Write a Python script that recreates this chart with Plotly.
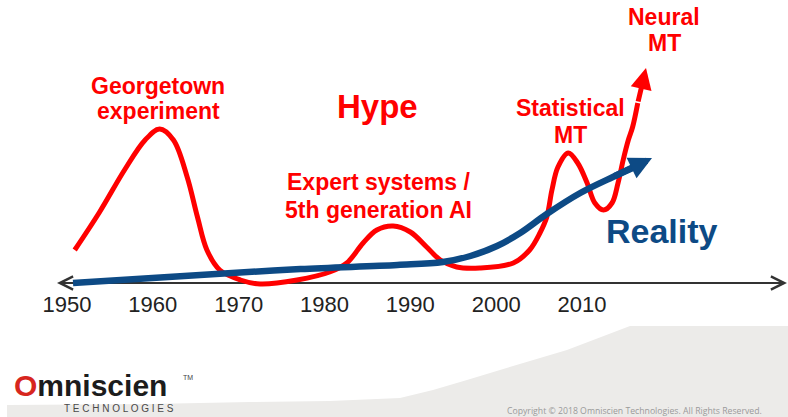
import plotly.graph_objects as go

W, H = 788, 417
X0_YEAR, X0_PX, PX_PER_YEAR = 1950, 67, 8.583
AXIS_PX = 283


def yr(px):
    return X0_YEAR + (px - X0_PX) / PX_PER_YEAR


def lv(py):
    return AXIS_PX - py


def px_x(px):
    return px / W


def px_y(py):
    return 1 - py / H


# ---------------- data ----------------
tick_years = [1950, 1960, 1970, 1980, 1990, 2000, 2010]
tick_labels = ["1950", "1960", "1970", "1980", "1990", "2000", "2010"]

hype_years = [1950.9, 1953.8, 1956.7, 1959.1, 1960.8, 1962.4, 1964.0, 1965.2, 1966.3,
              1967.8, 1970.2, 1972.5, 1976.8, 1980.6, 1982.6, 1984.5, 1986.1, 1988.0,
              1990.0, 1991.9, 1993.5, 1995.4, 1998.1, 2002.0, 2003.9, 2005.1, 2005.9,
              2006.5, 2007.2, 2008.4, 2009.5, 2010.6, 2011.5, 2012.5, 2013.5, 2014.2,
              2014.8, 2015.4, 2015.9, 2016.5, 2017.46]
hype_levels = [33, 71, 113, 143, 154, 143, 106, 66, 33,
               13, 3, -1, 3, 11, 20, 40, 53, 57,
               51, 36, 23, 16, 15, 20, 33, 50, 66,
               93, 116, 130, 120, 100, 80, 73, 80, 100,
               123, 143, 156, 180, 215]

reality_years = [1950.7, 1965.5, 1977.2, 1988.5, 1993.8, 1997.0, 2000.1, 2002.8,
                 2005.9, 2009.8, 2013.6, 2015.9, 2018.16]
reality_levels = [0, 8, 14, 18, 21, 27, 37, 50, 69, 90, 106, 115, 125]

RED = "#ff0000"
BLUE = "#0d4a85"
FONT = "Liberation Sans, Arial, sans-serif"

fig = go.Figure()

fig.add_trace(go.Scatter(x=hype_years[:-1], y=hype_levels[:-1], mode="lines",
                         line=dict(color=RED, width=5, shape="spline", smoothing=1.0),
                         hoverinfo="skip", name="Hype"))
fig.add_trace(go.Scatter(x=reality_years[:-1], y=reality_levels[:-1], mode="lines",
                         line=dict(color=BLUE, width=6.5, shape="spline", smoothing=1.0),
                         hoverinfo="skip", name="Reality"))

shapes = [
    # grey footer swoosh
    dict(type="path", xref="paper", yref="paper", layer="below",
         path="M {},{} ".format(px_x(7), px_y(417)) + " ".join(
             "L {:.4f},{:.4f}".format(px_x(a), px_y(b)) for a, b in
             [(7, 405), (150, 404), (250, 402), (330, 401), (400, 398), (433, 390),
              (467, 380), (500, 370), (567, 350), (630, 326), (788, 326), (788, 417)]) + " Z",
         fillcolor="#ecebe9", line=dict(width=0)),
    # horizontal axis line
    dict(type="line", xref="x", yref="y", layer="below",
         x0=yr(59), x1=yr(785), y0=0, y1=0, line=dict(color="#333333", width=2)),
]

annotations = [
    # axis arrowheads
    dict(x=yr(787), y=0, ax=yr(772), ay=0, xref="x", yref="y", axref="x", ayref="y",
         text="", showarrow=True, arrowhead=5, arrowsize=1.3, arrowwidth=2, arrowcolor="#333333"),
    dict(x=yr(57), y=0, ax=yr(72), ay=0, xref="x", yref="y", axref="x", ayref="y",
         text="", showarrow=True, arrowhead=5, arrowsize=1.3, arrowwidth=2, arrowcolor="#333333"),
    # curve arrowheads
    dict(x=hype_years[-1], y=hype_levels[-1], ax=hype_years[-2], ay=hype_levels[-2],
         xref="x", yref="y", axref="x", ayref="y", text="", showarrow=True,
         arrowhead=2, arrowsize=0.85, arrowwidth=5, arrowcolor=RED),
    dict(x=reality_years[-1], y=reality_levels[-1], ax=reality_years[-3], ay=reality_levels[-3],
         xref="x", yref="y", axref="x", ayref="y", text="", showarrow=True,
         arrowhead=2, arrowsize=0.7, arrowwidth=6.5, arrowcolor=BLUE),
]


def label(text, cx, cy, size, color, bold=True, family=FONT, anchor="center"):
    annotations.append(dict(
        x=px_x(cx), y=px_y(cy), xref="paper", yref="paper", showarrow=False,
        text="<b>{}</b>".format(text) if bold else text,
        xanchor=anchor, yanchor="middle", borderpad=0,
        font=dict(family=family, size=size, color=color)))


label("Georgetown", 158, 86, 23, RED)
label("experiment", 158, 111, 23, RED)
label("Hype", 377, 107, 33, RED)
label("Expert systems /", 378, 182, 23, RED)
label("5th generation AI", 378, 210, 23, RED)
label("Statistical", 570, 108, 23, RED)
label("MT", 570, 135, 23, RED)
label("Neural", 664, 17, 23, RED)
label("MT", 664, 43, 23, RED)
label("Reality", 662, 231, 34, BLUE)

# footer logo and copyright
label("<span style='color:#d7261e'>O</span>mniscien", 13, 385, 30, "#1c1c1c", anchor="left")
label("TM", 188, 377, 7, "#444444", bold=False)
label("T E C H N O L O G I E S", 119, 408, 10, "#4a4a4a", bold=False)
label("Copyright © 2018 Omniscien Technologies. All Rights Reserved.", 634, 411, 8.7,
      "#9a9a9a", bold=False, family="Open Sans, sans-serif")

fig.update_layout(
    width=W, height=H,
    margin=dict(l=0, r=0, t=0, b=0),
    plot_bgcolor="white", paper_bgcolor="white",
    showlegend=False,
    shapes=shapes,
    annotations=annotations,
    xaxis=dict(range=[yr(0), yr(W)], domain=[0, 1], anchor="free", position=(H - AXIS_PX) / H,
               tickvals=tick_years, ticktext=tick_labels, showgrid=False, zeroline=False,
               showline=False, ticks="", ticklabelstandoff=6,
               tickfont=dict(family=FONT, size=22, color="#222222"), fixedrange=True),
    yaxis=dict(range=[lv(H), lv(0)], domain=[0, 1], visible=False, fixedrange=True),
)

fig.write_html("out.html", config={"displayModeBar": False},
               post_script="document.body.style.margin='0';")
